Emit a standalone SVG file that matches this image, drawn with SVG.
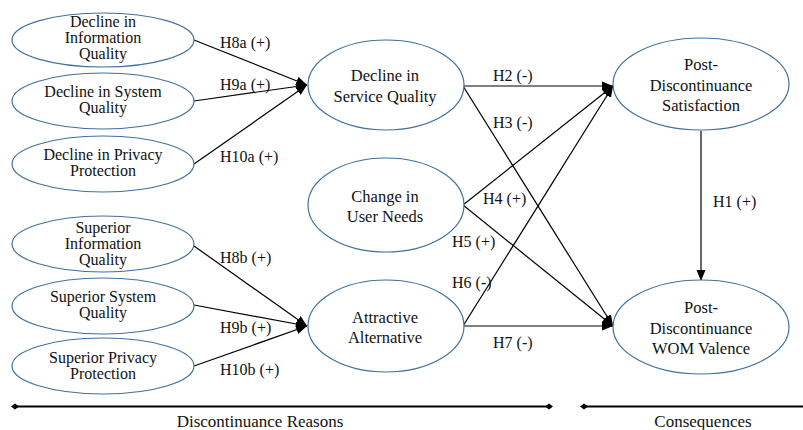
<svg xmlns="http://www.w3.org/2000/svg" width="803" height="430" viewBox="0 0 803 430" font-family="'Liberation Serif', 'Times New Roman', serif">
<style>
.node ellipse{fill:#fff;stroke:#41719c;stroke-width:1.2}
text{font-family:'Liberation Serif','Times New Roman',serif;fill:#111}
.nt{font-size:16.5px;text-anchor:middle}
.ns{font-size:16px;text-anchor:middle}
.lbl{font-size:16px}
.ax{font-size:17px;text-anchor:middle}
.conn line{stroke:#000;stroke-width:1.2;marker-end:url(#arr)}
.axis line{stroke:#000;stroke-width:2.2;marker-start:url(#dia);marker-end:url(#dia)}
</style>
<defs>
<marker id="arr" markerUnits="userSpaceOnUse" markerWidth="12" markerHeight="10" refX="11" refY="5" orient="auto"><path d="M0,0.5 L11,5 L0,9.5 z" fill="#000"/></marker>
<marker id="dia" markerUnits="userSpaceOnUse" markerWidth="8" markerHeight="8" refX="4" refY="4" orient="auto"><path d="M0,4 L4,1 L8,4 L4,7 z" fill="#000"/></marker>
</defs>
<rect width="803" height="430" fill="#fff"/>
<g id="connectors" class="conn">
<line x1="194" y1="40" x2="307" y2="85"/>
<line x1="194" y1="101" x2="307" y2="85"/>
<line x1="194" y1="164" x2="307" y2="85"/>
<line x1="194" y1="246" x2="307" y2="326"/>
<line x1="194" y1="305" x2="307" y2="326"/>
<line x1="194" y1="366" x2="307" y2="326"/>
<line x1="463" y1="86" x2="613" y2="86"/>
<line x1="463" y1="86" x2="613" y2="326"/>
<line x1="463" y1="205" x2="613" y2="86"/>
<line x1="463" y1="205" x2="613" y2="326"/>
<line x1="463" y1="326" x2="613" y2="86"/>
<line x1="463" y1="326" x2="613" y2="326"/>
<line x1="701" y1="131" x2="701" y2="281"/>
</g>
<g id="n1" class="node"><ellipse cx="103" cy="40" rx="91" ry="27"/><text class="ns" x="103" y="27">Decline in</text><text class="ns" x="103" y="43">Information</text><text class="ns" x="103" y="59">Quality</text></g>
<g id="n2" class="node"><ellipse cx="103" cy="101" rx="91" ry="28"/><text class="ns" x="103" y="97">Decline in System</text><text class="ns" x="103" y="113">Quality</text></g>
<g id="n3" class="node"><ellipse cx="103" cy="164" rx="91" ry="28"/><text class="ns" x="103" y="160">Decline in Privacy</text><text class="ns" x="103" y="176">Protection</text></g>
<g id="n4" class="node"><ellipse cx="103" cy="244" rx="91" ry="28"/><text class="ns" x="103" y="233">Superior</text><text class="ns" x="103" y="249">Information</text><text class="ns" x="103" y="265">Quality</text></g>
<g id="n5" class="node"><ellipse cx="103" cy="306" rx="91" ry="28"/><text class="ns" x="103" y="302">Superior System</text><text class="ns" x="103" y="318">Quality</text></g>
<g id="n6" class="node"><ellipse cx="103" cy="366" rx="91" ry="28"/><text class="ns" x="103" y="363">Superior Privacy</text><text class="ns" x="103" y="379">Protection</text></g>
<g id="n7" class="node"><ellipse cx="386" cy="85" rx="78" ry="45"/><text class="nt" x="385" y="81">Decline in</text><text class="nt" x="385" y="102">Service Quality</text></g>
<g id="n8" class="node"><ellipse cx="386" cy="205" rx="78" ry="47"/><text class="nt" x="385" y="202">Change in</text><text class="nt" x="385" y="222">User Needs</text></g>
<g id="n9" class="node"><ellipse cx="386" cy="326" rx="78" ry="46"/><text class="nt" x="385" y="323">Attractive</text><text class="nt" x="385" y="343">Alternative</text></g>
<g id="n10" class="node"><ellipse cx="701" cy="84" rx="88" ry="46"/><text class="nt" x="701" y="70">Post-</text><text class="nt" x="701" y="91">Discontinuance</text><text class="nt" x="701" y="111">Satisfaction</text></g>
<g id="n11" class="node"><ellipse cx="701" cy="327" rx="88" ry="47"/><text class="nt" x="701" y="313">Post-</text><text class="nt" x="701" y="334">Discontinuance</text><text class="nt" x="701" y="354">WOM Valence</text></g>
<g id="labels">
<text class="lbl" x="220" y="48">H8a (+)</text>
<text class="lbl" x="220" y="90">H9a (+)</text>
<text class="lbl" x="220" y="162">H10a (+)</text>
<text class="lbl" x="220" y="263">H8b (+)</text>
<text class="lbl" x="220" y="333">H9b (+)</text>
<text class="lbl" x="220" y="375">H10b (+)</text>
<text class="lbl" x="493" y="81">H2 (-)</text>
<text class="lbl" x="493" y="128">H3 (-)</text>
<text class="lbl" x="483" y="204">H4 (+)</text>
<text class="lbl" x="452" y="247">H5 (+)</text>
<text class="lbl" x="452" y="288">H6 (-)</text>
<text class="lbl" x="493" y="348">H7 (-)</text>
<text class="lbl" x="713" y="207">H1 (+)</text>
</g>
<g id="axis" class="axis">
<line x1="15" y1="406.5" x2="549" y2="406.5"/>
<line x1="584" y1="406.5" x2="807" y2="406.5"/>
<text class="ax" x="260" y="427">Discontinuance Reasons</text>
<text class="ax" x="703" y="427">Consequences</text>
</g>
</svg>
